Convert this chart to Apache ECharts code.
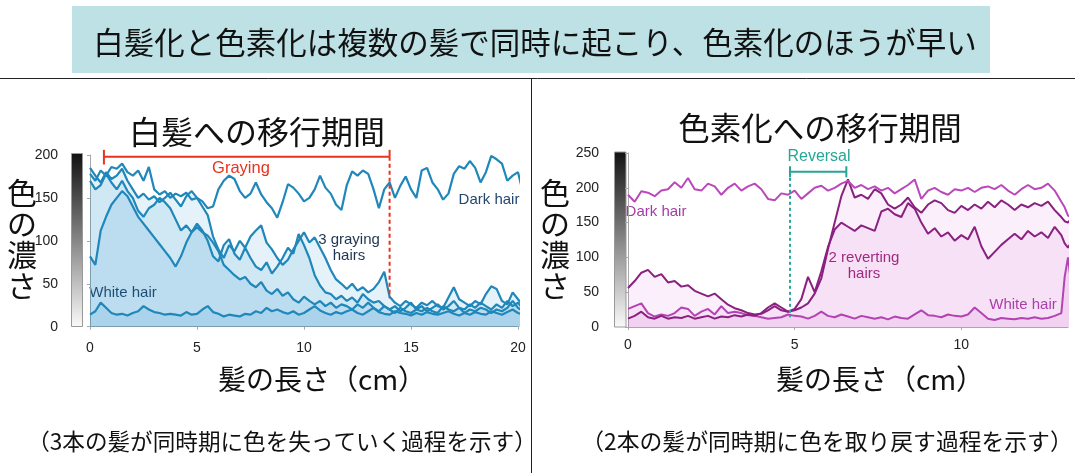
<!DOCTYPE html>
<html><head><meta charset="utf-8">
<script src="https://cdn.jsdelivr.net/npm/echarts@6/dist/echarts.min.js"></script>
<style>html,body{margin:0;padding:0;background:#fff}#c{width:1075px;height:473px}</style>
</head><body><div id="c"></div>
<script>
// ---------- LEFT PANEL (graying) ----------
const xLeft = [0,0.25,0.5,0.75,1,1.25,1.5,1.75,2,2.25,2.5,2.75,3,3.25,3.5,3.75,4,4.25,4.5,4.75,5,5.25,5.5,5.75,6,6.25,6.5,6.75,7,7.25,7.5,7.75,8,8.25,8.5,8.75,9,9.25,9.5,9.75,10,10.25,10.5,10.75,11,11.25,11.5,11.75,12,12.25,12.5,12.75,13,13.25,13.5,13.75,14,14.25,14.5,14.75,15,15.25,15.5,15.75,16,16.25,16.5,16.75,17,17.25,17.5,17.75,18,18.25,18.5,18.75,19,19.25,19.5,19.75,20,20.25];
const darkHairL = [178,170,182,176,186,184,190,180, 176,182,170,186,160,154,158,150, 155,152,156,148,150,146,138,140, 160,170,176,172,158,150,155,168, 154,145,138,127,145,166,162,155, 146,150,160,176,162,155,142,136, 165,181,176,182,178,160,138,160, 168,150,164,175,160,150,182,185, 168,160,148,155,178,187,184,193, 185,168,180,199,195,190,170,176, 180,154];
const grayingHair1 = [185,176,168,180,172,176,184,170, 160,150,155,148,152,145,150,156, 148,140,152,158,150,140,130,105, 90,80,95,88,100,92,105,112, 118,98,90,80,72,78,90,100, 110,98,104,92,80,66,55,50, 44,50,42,46,40,44,52,64, 35,28,24,30,26,22,28,25, 30,24,22,34,46,32,28,24, 30,26,38,47,44,30,26,40, 32,24];
const grayingHair2 = [170,160,165,178,168,160,170,158, 150,135,128,138,142,150,145,138, 125,112,118,110,120,112,100,82, 76,95,102,85,78,92,80,70, 66,75,62,70,80,92,85,108, 95,80,60,48,40,38,32,36, 30,34,28,38,32,28,30,24, 20,24,18,22,28,20,24,18, 22,26,20,24,30,22,20,26, 22,28,24,20,26,22,30,24, 28,20];
const grayingHair3 = [82,72,112,128,142,150,158,152, 140,128,120,112,104,96,88,80, 70,82,98,110,116,110,106,98, 88,72,66,60,55,58,50,46, 52,42,38,44,36,40,32,28, 35,30,26,30,24,28,22,26, 24,20,26,22,28,22,18,24, 20,16,22,18,16,20,18,22, 18,16,24,20,18,22,16,20, 18,22,20,16,20,18,22,30, 22,18];
const whiteHairL = [14,18,28,22,16,14,15,13, 16,18,24,20,17,16,14,15, 14,13,17,14,15,20,24,17, 15,12,14,13,12,15,14,18, 16,22,18,20,17,15,18,14, 16,20,24,19,16,14,17,15, 18,20,16,14,18,22,17,15, 14,18,16,15,13,16,14,17, 15,14,16,18,15,13,16,14, 17,15,14,18,16,14,17,20, 16,14];
const grayingRange = [0.65, 14.0];
const grayingLevel = 198;
const grayingDashEnd = 33;
const leftYTicks = [0, 200, 50];
const leftXTicks = [0, 20, 5];

// ---------- RIGHT PANEL (re-pigmentation) ----------
const xRight = [0,0.2,0.4,0.6,0.8,1,1.2,1.4,1.6,1.8,2,2.2,2.4,2.6,2.8,3,3.2,3.4,3.6,3.8,4,4.2,4.4,4.6,4.8,5,5.2,5.4,5.6,5.8,6,6.2,6.4,6.6,6.8,7,7.2,7.4,7.6,7.8,8,8.2,8.4,8.6,8.8,9,9.2,9.4,9.6,9.8,10,10.2,10.4,10.6,10.8,11,11.2,11.4,11.6,11.8,12,12.2,12.4,12.6,12.8,13,13.1,13.2,13.3,13.4];
const darkHairR = [190,180,195,193,188,196,198,208,200,214, 198,196,206,202,190,200,206,196,202,206, 198,184,182,192,190,196,184,192,200,203, 196,200,206,210,200,204,198,202,196,200, 192,198,204,212,184,196,200,194,190,198, 196,200,194,200,202,198,204,196,190,198, 204,198,200,206,196,180,172,160,158,156];
const revertingHair1 = [56,66,78,82,72,76,64,66,58,60, 52,48,44,48,40,32,27,24,20,18, 19,24,30,24,22,26,40,72,50,80, 115,140,150,144,138,146,142,138,166,170, 162,158,178,170,150,134,142,130,136,124, 132,126,144,116,98,108,118,126,134,126, 138,130,136,128,144,132,120,114,122,130];
const revertingHair2 = [12,16,22,14,12,16,12,14,13,16, 12,14,16,12,15,14,17,15,18,16, 20,28,34,28,22,24,28,34,48,70, 112,150,188,212,186,190,184,198,192,176, 170,176,186,172,164,176,182,178,168,164, 174,168,176,170,180,172,182,176,168,176, 172,178,174,180,168,158,152,150,156,160];
const whiteHairR = [26,30,34,20,15,18,16,20,28,26, 16,22,26,18,30,20,22,20,17,16, 14,12,13,14,18,16,15,12,16,22, 16,14,18,15,12,16,14,12,14,11, 15,13,12,18,24,17,16,14,18,16, 15,18,28,20,12,10,13,12,11,13, 12,14,12,13,16,20,72,100,60,90];
const reversalRange = [4.86, 6.55];
const reversalLevel = 223;
const reversalDashEnd = 14;
const rightYTicks = [0, 250, 50];
const rightXTicks = [0, 13.2, 5];

// ---------- texts ----------
const bannerText = '白髪化と色素化は複数の髪で同時に起こり、色素化のほうが早い';
const leftTitle = '白髪への移行期間';
const rightTitle = '色素化への移行期間';
const yName = '色\nの\n濃\nさ';
const xName = '髪の長さ（cm）';
const leftCaption = '（3本の髪が同時期に色を失っていく過程を示す）';
const rightCaption = '（2本の髪が同時期に色を取り戻す過程を示す）';

const chart = echarts.init(document.getElementById('c'), null, {renderer: 'canvas'});
const JP = '"Noto Sans CJK JP", sans-serif';
const LAT = '"Liberation Sans", Arial, sans-serif';
const pairs = (xs, ys) => xs.map((x, i) => [x, ys[i]]);

const blueLine = '#1f87ba';
const blueFill = 'rgba(30,140,200,0.155)';
const pinkFill = 'rgba(200,80,200,0.13)';

function hair(xi, xs, ys, color, width, fill) {
  const s = {type: 'line', xAxisIndex: xi, yAxisIndex: xi, data: pairs(xs, ys), symbol: 'none',
    clip: false, silent: true, lineStyle: {color: color, width: width}, z: 3};
  if (fill) s.areaStyle = {color: fill};
  return s;
}
function seg(xi, pts, color, width, type) {
  return {type: 'line', xAxisIndex: xi, yAxisIndex: xi, data: pts, symbol: 'none', clip: false,
    silent: true, lineStyle: {color: color, width: width, type: type || 'solid'}, z: 5};
}
const red = '#e5341f', teal = '#27a596';

function axisStyle(extra) {
  return Object.assign({
    axisLine: {show: true, lineStyle: {color: '#a8a8a8', width: 1}},
    axisTick: {show: true, length: 3, lineStyle: {color: '#a8a8a8'}},
    splitLine: {show: false},
    axisLabel: {color: '#222', fontFamily: LAT, fontSize: 14, margin: 4}
  }, extra);
}

const grad = new echarts.graphic.LinearGradient(0, 0, 0, 1, [{offset: 0, color: '#111'}, {offset: 1, color: '#fafafa'}]);
const grad2 = new echarts.graphic.LinearGradient(0, 0, 0, 1, [{offset: 0, color: '#111'}, {offset: 1, color: '#fafafa'}]);

function txt(x, y, text, size, color, font, align, extra) {
  return {type: 'text', x: x, y: y, silent: true, style: Object.assign({text: text, fontSize: size, fill: color,
    fontFamily: font, align: align || 'center', verticalAlign: 'middle'}, extra || {})};
}

chart.setOption({
  animation: false,
  grid: [
    {left: 90, top: 155, width: 428, height: 171.7},
    {left: 628, top: 153, width: 440, height: 174}
  ],
  xAxis: [
    axisStyle({type: 'value', gridIndex: 0, min: leftXTicks[0], max: leftXTicks[1], interval: leftXTicks[2], offset: 10}),
    axisStyle({type: 'value', gridIndex: 1, min: rightXTicks[0], max: rightXTicks[1], interval: rightXTicks[2], offset: 7,
      axisLabel: {color: '#222', fontFamily: LAT, fontSize: 14, margin: 4, showMaxLabel: false}})
  ],
  yAxis: [
    axisStyle({type: 'value', gridIndex: 0, min: leftYTicks[0], max: leftYTicks[1], interval: leftYTicks[2], offset: 28}),
    axisStyle({type: 'value', gridIndex: 1, min: rightYTicks[0], max: rightYTicks[1], interval: rightYTicks[2], offset: 25})
  ],
  series: [
    hair(0, xLeft, whiteHairL, blueLine, 2.2, blueFill),
    hair(0, xLeft, grayingHair3, blueLine, 2.2, blueFill),
    hair(0, xLeft, grayingHair2, blueLine, 2.2, blueFill),
    hair(0, xLeft, grayingHair1, blueLine, 2.2, blueFill),
    hair(0, xLeft, darkHairL, blueLine, 2.2, null),
    seg(0, [[grayingRange[0], grayingLevel], [grayingRange[1], grayingLevel]], red, 2),
    seg(0, [[grayingRange[0], grayingLevel + 8], [grayingRange[0], grayingLevel - 9]], red, 2),
    seg(0, [[grayingRange[1], grayingLevel + 8], [grayingRange[1], grayingLevel]], red, 2),
    seg(0, [[grayingRange[1], grayingLevel], [grayingRange[1], grayingDashEnd]], red, 2, [4, 3]),

    hair(1, xRight, whiteHairR, '#b343b3', 2, pinkFill),
    hair(1, xRight, revertingHair1, '#8a2080', 2, pinkFill),
    hair(1, xRight, revertingHair2, '#8a2080', 2, pinkFill),
    hair(1, xRight, darkHairR, '#bb48bb', 2, null),
    seg(1, [[reversalRange[0], reversalLevel], [reversalRange[1], reversalLevel]], teal, 2),
    seg(1, [[reversalRange[0], reversalLevel + 8], [reversalRange[0], reversalLevel - 8]], teal, 2),
    seg(1, [[reversalRange[1], reversalLevel + 8], [reversalRange[1], reversalLevel - 8]], teal, 2),
    seg(1, [[reversalRange[0], reversalLevel], [reversalRange[0], reversalDashEnd]], teal, 2, [3, 3])
  ],
  graphic: [
    {type: 'rect', shape: {x: 72, y: 6, width: 918, height: 67}, style: {fill: '#bde1e4'}, silent: true},
    txt(535, 42, bannerText, 30.5, '#111', JP),
    {type: 'line', shape: {x1: 0, y1: 78.5, x2: 1075, y2: 78.5}, style: {stroke: '#222', lineWidth: 1}, silent: true},
    {type: 'line', shape: {x1: 531.5, y1: 78, x2: 531.5, y2: 473}, style: {stroke: '#222', lineWidth: 1}, silent: true},
    txt(257, 132, leftTitle, 32, '#111', JP),
    txt(820, 128, rightTitle, 31.5, '#111', JP),
    txt(22, 239, yName, 30, '#111', JP, 'center', {lineHeight: 31}),
    txt(555, 239, yName, 30, '#111', JP, 'center', {lineHeight: 31}),
    txt(322, 379, xName, 28, '#111', JP),
    txt(880, 379, xName, 28, '#111', JP),
    txt(282, 441, leftCaption, 22.6, '#111', JP),
    txt(827, 441, rightCaption, 22.8, '#111', JP),
    {type: 'rect', shape: {x: 71.5, y: 153.5, width: 11, height: 173}, style: {fill: grad, stroke: '#999', lineWidth: 1}, silent: true},
    {type: 'rect', shape: {x: 614.5, y: 152, width: 11.5, height: 175}, style: {fill: grad2, stroke: '#999', lineWidth: 1}, silent: true},
    txt(241, 168, 'Graying', 16.5, red, LAT),
    txt(489, 200, 'Dark hair', 15, '#24476d', LAT),
    txt(349, 248, '3 graying\nhairs', 15, '#1d3552', LAT, 'center', {lineHeight: 16}),
    txt(123, 293, 'White hair', 15, '#1d3552', LAT),
    txt(819, 157, 'Reversal', 16, teal, LAT),
    txt(656, 212, 'Dark hair', 15, '#a53ca5', LAT),
    txt(864, 266, '2 reverting\nhairs', 15, '#9a2272', LAT, 'center', {lineHeight: 16}),
    txt(1023, 305, 'White hair', 15, '#a53ca5', LAT)
  ]
});
</script>
</body></html>
